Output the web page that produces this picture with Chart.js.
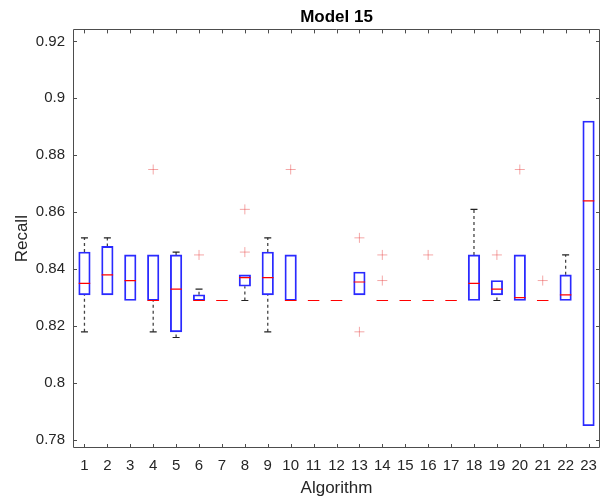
<!DOCTYPE html>
<html>
<head>
<meta charset="utf-8">
<script src="https://cdn.jsdelivr.net/npm/chart.js@4/dist/chart.umd.min.js"></script>
<style>
  html, body { margin: 0; padding: 0; background: #fff; }
  #wrap { width: 601px; height: 497px; }
</style>
</head>
<body>
<div id="wrap"><canvas id="boxChart" width="601" height="497"></canvas></div>
<script>
// algorithms 1..23, recall spread per algorithm
var algorithms = [1, 2, 3, 4, 5, 6, 7, 8, 9, 10, 11, 12, 13, 14, 15, 16, 17, 18, 19, 20, 21, 22, 23];
var q1      = [0.831, 0.831, 0.829, 0.829, 0.818, 0.829, 0.829, 0.834, 0.831, 0.829, 0.829, 0.829, 0.831, 0.829, 0.829, 0.829, 0.829, 0.829, 0.831, 0.829, 0.829, 0.829, 0.785];
var q3      = [0.846, 0.848, 0.845, 0.845, 0.845, 0.831, 0.829, 0.838, 0.846, 0.845, 0.829, 0.829, 0.839, 0.829, 0.829, 0.829, 0.829, 0.845, 0.836, 0.845, 0.829, 0.838, 0.892];
var medians = [0.835, 0.838, 0.836, 0.829, 0.833, 0.829, 0.829, 0.837, 0.837, 0.829, 0.829, 0.829, 0.8355, 0.829, 0.829, 0.829, 0.829, 0.835, 0.833, 0.830, 0.829, 0.831, 0.864];
var whiskLo = [0.818, 0.831, 0.829, 0.818, 0.816, 0.829, 0.829, 0.829, 0.818, 0.829, 0.829, 0.829, 0.831, 0.829, 0.829, 0.829, 0.829, 0.829, 0.829, 0.829, 0.829, 0.829, 0.785];
var whiskHi = [0.851, 0.851, 0.845, 0.845, 0.846, 0.833, 0.829, 0.838, 0.851, 0.845, 0.829, 0.829, 0.839, 0.829, 0.829, 0.829, 0.829, 0.861, 0.836, 0.845, 0.829, 0.845, 0.892];
var outlierAlg = [4, 6, 8, 8, 10, 13, 13, 14, 14, 16, 19, 20, 21];
var outlierVal = [0.875, 0.845, 0.861, 0.846, 0.875, 0.851, 0.818, 0.845, 0.836, 0.845, 0.845, 0.875, 0.836];
var yTicks = [0.78, 0.8, 0.82, 0.84, 0.86, 0.88, 0.9, 0.92];

var boxData = [], medianData = [], whiskerData = [], capData = [], outlierData = [];
algorithms.forEach(function (a, i) {
    if (q3[i] > q1[i]) boxData.push({ x: a, y: [q1[i], q3[i]] });
    medianData.push({ x: a, y: medians[i] });
    if (whiskHi[i] > q3[i]) {
        whiskerData.push({ x: a, y: q3[i] }, { x: a, y: whiskHi[i] }, { x: a, y: null });
        capData.push({ x: a, y: whiskHi[i] });
    }
    if (whiskLo[i] < q1[i]) {
        whiskerData.push({ x: a, y: whiskLo[i] }, { x: a, y: q1[i] }, { x: a, y: null });
        capData.push({ x: a, y: whiskLo[i] });
    }
});
outlierAlg.forEach(function (a, i) {
    outlierData.push({ x: a, y: outlierVal[i] });
});

// frame round the plot area plus inward tick marks on all four sides
var frameTicks = {
    id: 'frameTicks',
    afterDraw: function (chart) {
        var ctx = chart.ctx, a = chart.chartArea;
        var xs = chart.scales.x, ys = chart.scales.y;
        var len = 4;
        ctx.save();
        ctx.strokeStyle = '#4d4d4d';
        ctx.lineWidth = 1;
        ctx.beginPath();
        ctx.rect(Math.round(a.left) + 0.5, Math.round(a.top) + 0.5,
                 Math.round(a.right - a.left) - 1, Math.round(a.bottom - a.top) - 1);
        algorithms.forEach(function (v) {
            var px = Math.round(xs.getPixelForValue(v)) + 0.5;
            ctx.moveTo(px, a.bottom); ctx.lineTo(px, a.bottom - len);
            ctx.moveTo(px, a.top); ctx.lineTo(px, a.top + len);
        });
        yTicks.forEach(function (v) {
            var py = Math.round(ys.getPixelForValue(v)) + 0.5;
            ctx.moveTo(a.left, py); ctx.lineTo(a.left + len, py);
            ctx.moveTo(a.right, py); ctx.lineTo(a.right - len, py);
        });
        ctx.stroke();
        ctx.restore();
    }
};

var ctx = document.getElementById('boxChart').getContext('2d');
var chart = new Chart(ctx, {
    type: 'bar',
    data: {
        datasets: [{
            type: 'line',
            label: 'median',
            data: medianData,
            showLine: false,
            pointStyle: 'line',
            pointRadius: 5.75,
            pointBorderColor: '#ff0000',
            pointBorderWidth: 1.2
        }, {
            type: 'line',
            label: 'outliers',
            data: outlierData,
            showLine: false,
            pointStyle: 'cross',
            pointRadius: 5,
            pointBorderColor: 'rgba(230,60,60,0.45)',
            pointBorderWidth: 1
        }, {
            label: 'box',
            data: boxData,
            backgroundColor: 'rgba(255,255,255,0)',
            borderColor: '#2a2aff',
            borderWidth: 1.2,
            borderSkipped: false,
            barThickness: 11.5,
            grouped: false
        }, {
            type: 'line',
            label: 'caps',
            data: capData,
            showLine: false,
            pointStyle: 'line',
            pointRadius: 3.5,
            pointBorderColor: '#222222',
            pointBorderWidth: 1.2
        }, {
            type: 'line',
            label: 'whiskers',
            data: whiskerData,
            spanGaps: false,
            borderColor: '#444444',
            borderWidth: 1.3,
            borderDash: [3, 3],
            pointRadius: 0
        }]
    },
    options: {
        responsive: false,
        animation: false,
        devicePixelRatio: 1,
        layout: { autoPadding: false, padding: { left: 0, right: 1, top: 0, bottom: 0 } },
        plugins: {
            legend: { display: false },
            tooltip: { enabled: false },
            title: {
                display: true,
                text: 'Model 15',
                fullSize: false,
                color: '#000000',
                font: { family: 'Liberation Sans, Arial, sans-serif', size: 17, weight: 'bold' },
                padding: { top: 7, bottom: 2 }
            }
        },
        scales: {
            x: {
                type: 'linear',
                min: 0.5,
                max: 23.5,
                offset: false,
                afterBuildTicks: function (scale) {
                    scale.ticks = algorithms.map(function (v) { return { value: v }; });
                },
                afterFit: function (scale) { scale.height = 49; },
                // tick marks are hidden; tickLength only spaces the labels down
                grid: { display: false, drawTicks: true, tickLength: 9 },
                border: { display: false },
                ticks: {
                    padding: 0,
                    color: '#262626',
                    font: { family: 'Liberation Sans, Arial, sans-serif', size: 15 },
                    maxRotation: 0,
                    autoSkip: false
                },
                title: {
                    display: true,
                    text: 'Algorithm',
                    color: '#262626',
                    font: { family: 'Liberation Sans, Arial, sans-serif', size: 17 },
                    padding: { top: 0, bottom: -2 }
                }
            },
            y: {
                type: 'linear',
                min: 0.7772,
                max: 0.9242,
                afterBuildTicks: function (scale) {
                    scale.ticks = yTicks.map(function (v) { return { value: v }; });
                },
                afterFit: function (scale) { scale.width = 73; },
                grid: { display: false, drawTicks: false },
                border: { display: false },
                ticks: {
                    padding: 8,
                    color: '#262626',
                    font: { family: 'Liberation Sans, Arial, sans-serif', size: 15 },
                    callback: function (v) { return String(+v.toFixed(2)); }
                },
                title: {
                    display: true,
                    text: 'Recall',
                    color: '#262626',
                    font: { family: 'Liberation Sans, Arial, sans-serif', size: 17 },
                    padding: { top: 12, bottom: 0 }
                }
            }
        }
    },
    plugins: [frameTicks]
});
</script>
</body>
</html>
